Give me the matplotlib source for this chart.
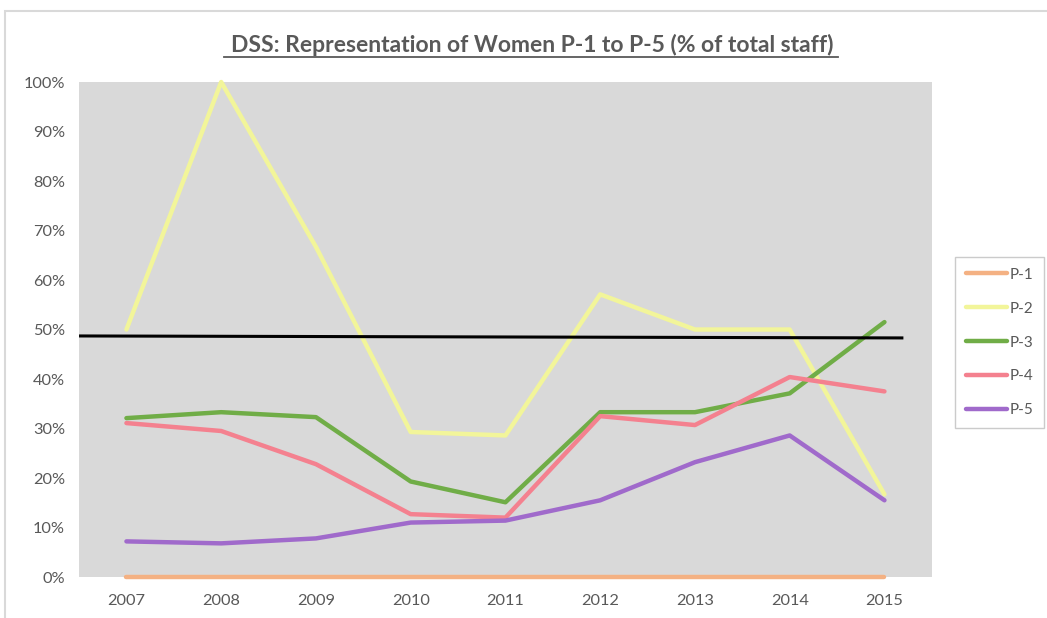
import matplotlib
matplotlib.use("Agg")
import matplotlib.pyplot as plt
from matplotlib.patches import Rectangle
from matplotlib.ticker import PercentFormatter

plt.rcParams['font.family'] = ['Lato', 'DejaVu Sans']

years = ["2007", "2008", "2009", "2010", "2011", "2012", "2013", "2014", "2015"]
p1 = [0, 0, 0, 0, 0, 0, 0, 0, 0]
p2 = [0.50, 1.00, 0.667, 0.293, 0.286, 0.571, 0.50, 0.50, 0.167]
p3 = [0.321, 0.333, 0.323, 0.193, 0.151, 0.333, 0.333, 0.371, 0.515]
p4 = [0.311, 0.295, 0.228, 0.127, 0.120, 0.325, 0.307, 0.404, 0.375]
p5 = [0.072, 0.068, 0.078, 0.110, 0.114, 0.155, 0.232, 0.286, 0.155]
series_names = ["P-1", "P-2", "P-3", "P-4", "P-5"]
series_colors = ["#F4B183", "#F2F59A", "#70AD47", "#F4818F", "#A06ACB"]
ref_line_x = [-0.5, 8.2]
ref_line_y = [0.487, 0.483]

fig = plt.figure(figsize=(10.47, 6.18), dpi=100)
ax = fig.add_axes([0.0755, 0.0663, 0.8145, 0.801])
ax.set_facecolor("#D9D9D9")

x = list(range(len(years)))
for vals, name, col in zip([p1, p2, p3, p4, p5], series_names, series_colors):
    ax.plot(x, vals, color=col, lw=3.2, label=name, solid_capstyle='round',
            solid_joinstyle='round', clip_on=False)
ax.plot(ref_line_x, ref_line_y, color="black", lw=2.2, solid_capstyle='butt')

ax.set_xlim(-0.5, 8.5)
ax.set_ylim(0, 1)
ax.set_xticks(x)
ax.set_xticklabels(years)
ax.set_yticks([i / 10 for i in range(11)])
ax.yaxis.set_major_formatter(PercentFormatter(1.0, decimals=0))
for s in ax.spines.values():
    s.set_visible(False)
ax.tick_params(axis='both', length=0, colors="#595959", labelsize=11.8)
ax.tick_params(axis='y', pad=10)
ax.tick_params(axis='x', pad=12)

fig.text(0.508, 0.928, "DSS: Representation of Women P-1 to P-5 (% of total staff)",
         ha='center', va='center', fontsize=16.5, fontweight='bold', color="#595959")
# underline
fig.add_artist(plt.Line2D([224 / 1047, 838 / 1047], [1 - 57 / 618, 1 - 57 / 618],
                          color="#595959", lw=1.3))

leg = ax.legend(loc='center left', bbox_to_anchor=(955 / 1047, 1 - 342.5 / 618),
                bbox_transform=fig.transFigure, frameon=True, fancybox=False,
                edgecolor="#BFBFBF", fontsize=11, handlelength=2.7,
                handletextpad=0.15, labelspacing=1.3, borderpad=0.7,
                borderaxespad=0)
for t in leg.get_texts():
    t.set_color("#595959")
leg.get_frame().set_linewidth(1.0)

fig.add_artist(Rectangle((5 / 1047, -0.05), 1.2, 1 - 11 / 618 + 0.05,
                         transform=fig.transFigure, fill=False,
                         edgecolor="#D9D9D9", lw=1.5))

fig.savefig("out.png", dpi=100)
